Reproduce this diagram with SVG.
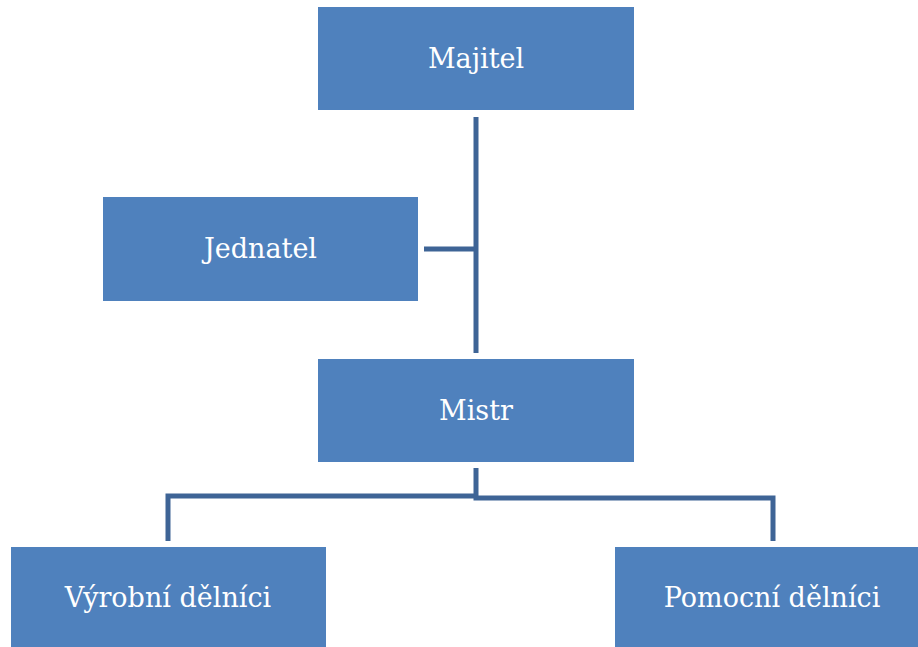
<svg xmlns="http://www.w3.org/2000/svg" width="918" height="647" viewBox="0 0 918 647">
  <style>
    .box { fill: #4F81BD; }
    .label { fill: #FFFFFF; font-family: "DejaVu Serif", "Liberation Serif", serif; font-size: 27px; text-anchor: middle; }
    .link { fill: none; stroke: #3E6496; stroke-width: 5; stroke-linejoin: miter; }
  </style>
  <rect width="918" height="647" fill="#FFFFFF"/>

  <!-- connectors -->
  <g id="connectors">
    <path class="link" d="M476 117 V353"/>
    <path class="link" d="M424 249 H476"/>
    <path class="link" d="M476 468 V496 H168 V541"/>
    <path class="link" d="M476 496 V498 H773 V541"/>
  </g>

  <g id="majitel">
    <rect class="box" x="318" y="7" width="316" height="103"/>
    <text class="label" x="476" y="68">Majitel</text>
  </g>

  <g id="jednatel">
    <rect class="box" x="103" y="197" width="315" height="104"/>
    <text class="label" x="260.5" y="258">Jednatel</text>
  </g>

  <g id="mistr">
    <rect class="box" x="318" y="359" width="316" height="103"/>
    <text class="label" x="476" y="420">Mistr</text>
  </g>

  <g id="vyrobni-delnici">
    <rect class="box" x="11" y="547" width="315" height="100"/>
    <text class="label" x="168" y="607">Výrobní dělníci</text>
  </g>

  <g id="pomocni-delnici">
    <rect class="box" x="615" y="547" width="303" height="100"/>
    <text class="label" x="772" y="607">Pomocní dělníci</text>
  </g>
</svg>
